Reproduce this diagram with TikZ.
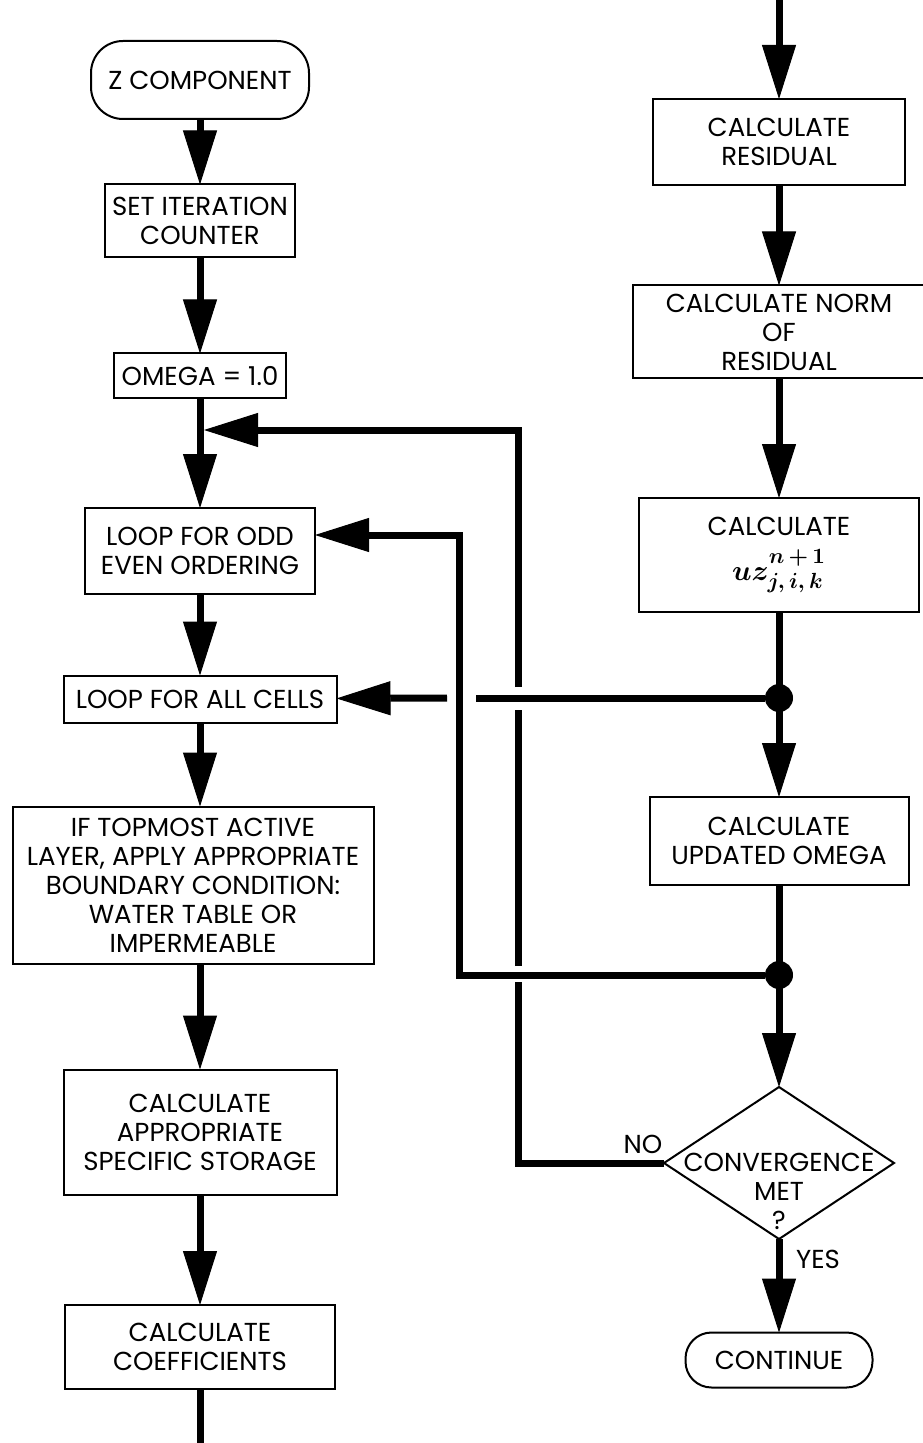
\documentclass[tikz,border=0pt]{standalone}
\usepackage{fontspec}
\setmainfont{Poppins}
\usetikzlibrary{arrows.meta,shapes.geometric}

\begin{document}
\begin{tikzpicture}[x=0.5pt,y=-0.5pt,
  every node/.style={inner sep=0pt, outer sep=0pt, align=center, font=\fontsize{13}{14.5}\selectfont},
  box/.style={draw, line width=1pt},
  term/.style={box, rounded corners=16pt},
  arr/.style={line width=3.5pt, -{Triangle[length=27pt,width=17pt,line width=0.5pt]}},
  link/.style={line width=3.5pt},
  dot/.style={circle, fill=black, minimum size=14pt}]
\useasboundingbox (0,0) rectangle (922,1443);

\node[term, minimum width=109pt, minimum height=39pt] (zcomp) at (200,80) {Z COMPONENT};
\node[box, minimum width=95pt, minimum height=36.5pt] (setcnt) at (200,221) {SET ITERATION\\COUNTER};
\node[box, minimum width=86pt, minimum height=22.5pt] (omega) at (200,376) {OMEGA = 1.0};
\node[box, minimum width=115pt, minimum height=43pt] (oddeven) at (200,551) {LOOP FOR ODD\\EVEN ORDERING};
\node[box, minimum width=136.5pt, minimum height=23.5pt] (allcells) at (200,699) {LOOP FOR ALL CELLS};
\node[box, minimum width=180.5pt, minimum height=78.5pt] (topmost) at (193,885) {IF TOPMOST ACTIVE\\LAYER, APPLY APPROPRIATE\\BOUNDARY CONDITION:\\WATER TABLE OR\\IMPERMEABLE};
\node[box, minimum width=136.5pt, minimum height=62.5pt] (storage) at (200,1132) {CALCULATE\\APPROPRIATE\\SPECIFIC STORAGE};
\node[box, minimum width=135pt, minimum height=42pt] (coeff) at (200,1347) {CALCULATE\\COEFFICIENTS};

\node[box, minimum width=126pt, minimum height=43pt] (resid) at (779,142) {CALCULATE\\RESIDUAL};
\node[box, minimum width=146pt, minimum height=46.5pt] (norm) at (779,332) {CALCULATE NORM\\OF\\RESIDUAL};
\node[box, minimum width=140pt, minimum height=57pt] (uz) at (779,555) {CALCULATE\\[6pt]{\fontsize{15}{16}\selectfont\boldmath$uz^{n\,+\,1\rule[-3pt]{0pt}{1pt}}_{j,\,i,\,k}$}};
\node[box, minimum width=129.5pt, minimum height=44pt] (omup) at (779,841) {CALCULATE\\UPDATED OMEGA};
\node[diamond, draw, line width=1pt, minimum width=115pt, minimum height=76pt,
  label={[yshift=-14pt]center:CONVERGENCE\\MET\\?}] (conv) at (779,1163) {};
\node[term, minimum width=93.5pt, minimum height=27.5pt, rounded corners=13pt] (cont) at (779,1360) {CONTINUE};
\node (no) at (643,1144) {NO};
\node (yes) at (818,1259) {YES};

\coordinate (top) at (779,0);
\coordinate (bot) at (200,1443);
\coordinate (in1) at (204,430);
\coordinate (c2) at (459,535);

\draw[arr] (zcomp) -- (setcnt);
\draw[arr] (setcnt) -- (omega);
\draw[arr] (omega) -- (oddeven);
\draw[arr] (oddeven) -- (allcells);
\draw[arr] (allcells) -- (topmost.north -| allcells);
\draw[arr] (topmost.south -| storage) -- (storage);
\draw[arr] (storage) -- (coeff);
\draw[link] (coeff) -- (bot);

\draw[arr] (top) -- (resid);
\draw[arr] (resid) -- (norm);
\draw[arr] (norm) -- (uz);
\draw[arr] (uz) -- (omup);
\draw[arr] (omup) -- (conv);
\draw[arr] (conv) -- (cont);

\node[dot] (j1) at (779,698) {};
\node[dot] (j2) at (779,975) {};

\draw[link] (conv.west) -| (518,982);
\draw[link] (518,966) -- (518,710);
\draw[arr] (518,687) |- (in1);
\draw[arr] (j2) -| (c2) -- (c2 -| oddeven.east);
\draw[link] (j1) -- (476,698);
\draw[arr] (447,698) -- (allcells);
\end{tikzpicture}
\end{document}
